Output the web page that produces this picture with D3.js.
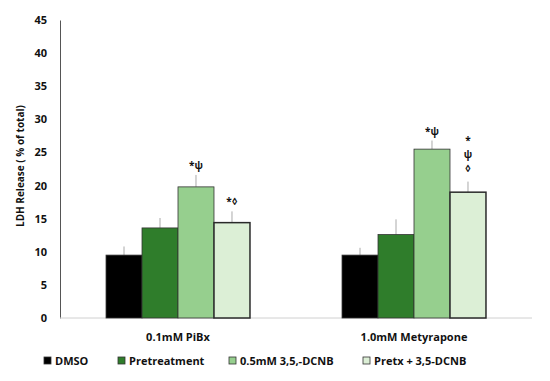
<!DOCTYPE html>
<html>
<head>
<meta charset="utf-8">
<script src="https://cdn.jsdelivr.net/npm/d3@7"></script>
<style>
  body { margin: 0; background: #fff; }
  svg text { font-family: "Open Sans", sans-serif; font-weight: bold; fill: #111; }
</style>
</head>
<body>
<svg id="chart" width="550" height="381"></svg>
<script>
var groups = ["0.1mM PiBx", "1.0mM Metyrapone"];
var series = ["DMSO", "Pretreatment", "0.5mM 3,5,-DCNB", "Pretx + 3,5-DCNB"];
var colors = ["#000000", "#2f7d2b", "#96cf8e", "#dcefd6"];
var values = [
    [9.5, 13.6, 19.8, 14.4],
    [9.5, 12.6, 25.5, 19.0]
];
var errors = [
    [1.3, 1.5, 1.8, 1.7],
    [1.1, 2.3, 1.3, 1.6]
];
var marks = [
    [[], [], ["*\u03C8"], ["*\u25CA"]],
    [[], [], ["*\u03C8"], ["*", "\u03C8", "\u25CA"]]
];
var yTicks = d3.range(0, 50, 5);

var svg = d3.select("#chart");
var plotLeft = 60, plotRight = 532, plotTop = 20, plotBottom = 318;

var x0 = d3.scaleBand().domain(groups).range([plotLeft, plotRight])
    .paddingInner(0.39).paddingOuter(0.195);
var x1 = d3.scaleBand().domain(series).range([0, x0.bandwidth()]);
var y = d3.scaleLinear().domain([0, 45]).range([plotBottom, plotTop]);

// y axis
var yAxis = svg.append("g")
    .attr("transform", "translate(" + plotLeft + ",0)")
    .call(d3.axisLeft(y).tickValues(yTicks).tickSize(0).tickPadding(13));
yAxis.select(".domain").attr("stroke", "#555");
yAxis.selectAll("text").style("font-size", "11px");

// x axis line
svg.append("line")
    .attr("x1", plotLeft).attr("x2", plotRight)
    .attr("y1", y(0)).attr("y2", y(0))
    .attr("stroke", "#d0d0d0");

svg.append("text")
    .attr("transform", "translate(24,166) rotate(-90)")
    .attr("text-anchor", "middle")
    .style("font-size", "10px")
    .text("LDH Release ( % of total)");

groups.forEach(function (g, gi) {
    var gEl = svg.append("g").attr("transform", "translate(" + x0(g) + ",0)");
    series.forEach(function (s, si) {
        var v = values[gi][si];
        var cx = x1(s) + x1.bandwidth() / 2;
        gEl.append("line")
            .attr("x1", cx).attr("x2", cx)
            .attr("y1", y(v)).attr("y2", y(v + errors[gi][si]))
            .attr("stroke", "#aaa");
        gEl.append("rect")
            .attr("x", x1(s)).attr("y", y(v))
            .attr("width", x1.bandwidth()).attr("height", y(0) - y(v))
            .attr("fill", colors[si])
            .attr("stroke", si === 3 ? "#2a2a2a" : "#333")
            .attr("stroke-width", si === 3 ? 1.5 : 0.8);
        var m = marks[gi][si];
        var gap = m.length > 1 ? 10 : 6;
        var top0 = y(v + errors[gi][si]) - gap - (m.length - 1) * 14;
        m.forEach(function (t, ti) {
            gEl.append("text")
                .attr("x", cx).attr("y", top0 + ti * 14)
                .attr("text-anchor", "middle")
                .style("font-size", "10px")
                .text(t);
        });
    });
    svg.append("text")
        .attr("x", x0(g) + x0.bandwidth() / 2).attr("y", 341)
        .attr("text-anchor", "middle")
        .style("font-size", "11px")
        .text(g);
});

// legend
var legendX = [44, 118, 229, 363];
series.forEach(function (s, si) {
    var lg = svg.append("g").attr("transform", "translate(" + legendX[si] + ",357)");
    lg.append("rect")
        .attr("width", 7).attr("height", 7)
        .attr("fill", colors[si]).attr("stroke", "#333").attr("stroke-width", 0.8);
    lg.append("text")
        .attr("x", 11).attr("y", 7.5)
        .style("font-size", "11px")
        .text(s);
});
</script>
</body>
</html>
